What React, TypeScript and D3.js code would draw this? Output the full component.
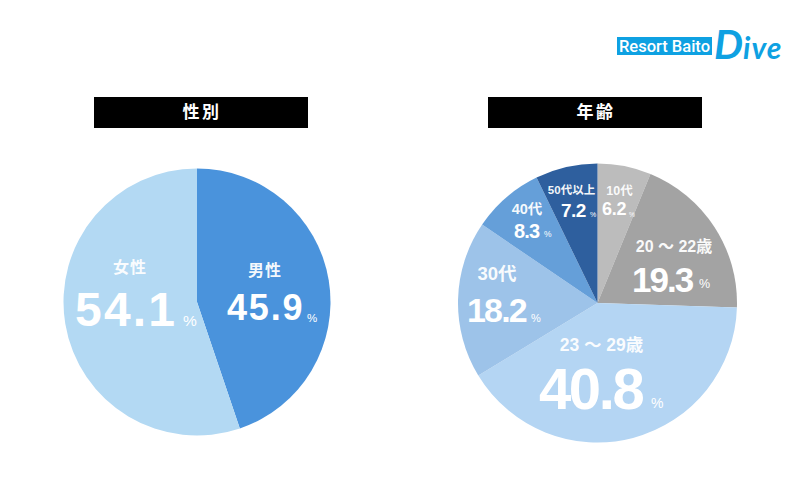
import * as d3 from "d3";

const genderNames = ["男性", "女性"];
const genderValues = [45.9, 54.1];
// the printed figures and the drawn wedge disagree in the picture, this is what the wedge measures
const genderDrawn = [44.8, 55.2];
const genderColors = ["#4a93dc", "#b3d9f3"];

const ageNames = ["10代", "20 〜 22歳", "23 〜 29歳", "30代", "40代", "50代以上"];
const ageValues = [6.2, 19.3, 40.8, 18.2, 8.3, 7.2];
const ageColors = ["#bcbcbc", "#a3a3a3", "#b4d5f3", "#9dc3e9", "#659fd9", "#2e5f9e"];

const latin = "'Liberation Sans', Arial, sans-serif";
const cjk = "'Liberation Sans', 'Noto Sans CJK JP', sans-serif";

// label placement, one row per slice
const genderLabels = [
  { nameX: 265, nameY: 276, nameSize: 16, nameSp: 1, valX: 227, valY: 320, valSize: 36, spacing: 1.8, pctX: 307, pctY: 322, pctSize: 11.5 },
  { nameX: 130, nameY: 272.5, nameSize: 16, nameSp: 1, valX: 75, valY: 326, valSize: 48, spacing: 2.2, pctX: 183, pctY: 326, pctSize: 15.5 },
];
const ageLabels = [
  { nameX: 619.5, nameY: 195, nameSize: 12.5, nameSp: 0, valX: 602, valY: 215, valSize: 18, spacing: -0.2, pctX: 629, pctY: 217, pctSize: 6.5 },
  { nameX: 674, nameY: 251.5, nameSize: 16, nameSp: 0, valX: 632, valY: 292, valSize: 35, spacing: -2, pctX: 699, pctY: 288, pctSize: 12.5 },
  { nameX: 601.5, nameY: 351, nameSize: 17.5, nameSp: 0, valX: 539, valY: 409, valSize: 58, spacing: -2.4, pctX: 651, pctY: 408, pctSize: 14 },
  { nameX: 497, nameY: 280, nameSize: 18.5, nameSp: 0, valX: 467, valY: 322, valSize: 34, spacing: -1.8, pctX: 531, pctY: 322, pctSize: 11 },
  { nameX: 527, nameY: 214, nameSize: 14.5, nameSp: 0, valX: 514, valY: 238, valSize: 20, spacing: -0.8, pctX: 544, pctY: 237, pctSize: 8.5 },
  { nameX: 571.5, nameY: 194, nameSize: 11.5, nameSp: 0, valX: 561, valY: 217, valSize: 19, spacing: -0.6, pctX: 590, pctY: 217, pctSize: 7 },
];

type LabelPos = (typeof ageLabels)[number];

function Pie({ cx, cy, r, shares, values, colors, names, labels }: {
  cx: number; cy: number; r: number; shares: number[]; values: number[]; colors: string[]; names: string[]; labels: LabelPos[];
}) {
  const arcs = d3.pie<number>().sort(null)(shares);
  const arc = d3.arc<d3.PieArcDatum<number>>().innerRadius(0).outerRadius(r);
  return (
    <g>
      <g transform={`translate(${cx},${cy})`}>
        {arcs.map((a, i) => (
          <path key={i} d={arc(a) as string} fill={colors[i]} />
        ))}
      </g>
      {arcs.map((a, i) => {
        const l = labels[i];
        return (
          <g key={i} fill="#fff" fontWeight="bold" fontFamily={latin}>
            <text x={l.nameX} y={l.nameY} textAnchor="middle" fontSize={l.nameSize} letterSpacing={l.nameSp} fontFamily={cjk} fillOpacity={0.95}>
              {names[i]}
            </text>
            <text x={l.valX} y={l.valY} fontSize={l.valSize} letterSpacing={l.spacing}>
              {d3.format(".1f")(values[i])}
            </text>
            <text x={l.pctX} y={l.pctY} fontSize={l.pctSize} fontWeight="normal">%</text>
          </g>
        );
      })}
    </g>
  );
}

function Title({ x, w, text }: { x: number; w: number; text: string }) {
  return (
    <g>
      <rect x={x} y={97} width={w} height={31} fill="#000" />
      <text x={x + w / 2 + 1} y={118} textAnchor="middle" fill="#fff" fontSize={17} fontWeight="bold" letterSpacing={2.5} fontFamily={cjk}>
        {text}
      </text>
    </g>
  );
}

export default function App() {
  return (
    <svg width={800} height={494} style={{ position: "absolute", left: 0, top: 0, background: "#fff" }}>
      <Title x={94} w={214} text="性別" />
      <Title x={488} w={214} text="年齢" />
      <Pie cx={197} cy={302} r={133.5} shares={genderDrawn} values={genderValues} colors={genderColors} names={genderNames} labels={genderLabels} />
      <Pie cx={597.5} cy={303} r={139.5} shares={ageValues} values={ageValues} colors={ageColors} names={ageNames} labels={ageLabels} />
      {/* logo */}
      <rect x={617} y={37} width={95} height={18} fill="#0ea1e2" />
      <text x={619} y={52} fill="#fff" fontSize={16.5} fontWeight="500" fontFamily="Roboto, sans-serif" textLength={91} lengthAdjust="spacingAndGlyphs">
        Resort Baito
      </text>
      <text x={714} y={59} fill="#0ea1e2" fontWeight="bold" fontStyle="italic" fontFamily="Lato, sans-serif">
        <tspan fontSize={41}>D</tspan>
        <tspan fontSize={30} dx={0} letterSpacing={1}>ive</tspan>
      </text>
    </svg>
  );
}
